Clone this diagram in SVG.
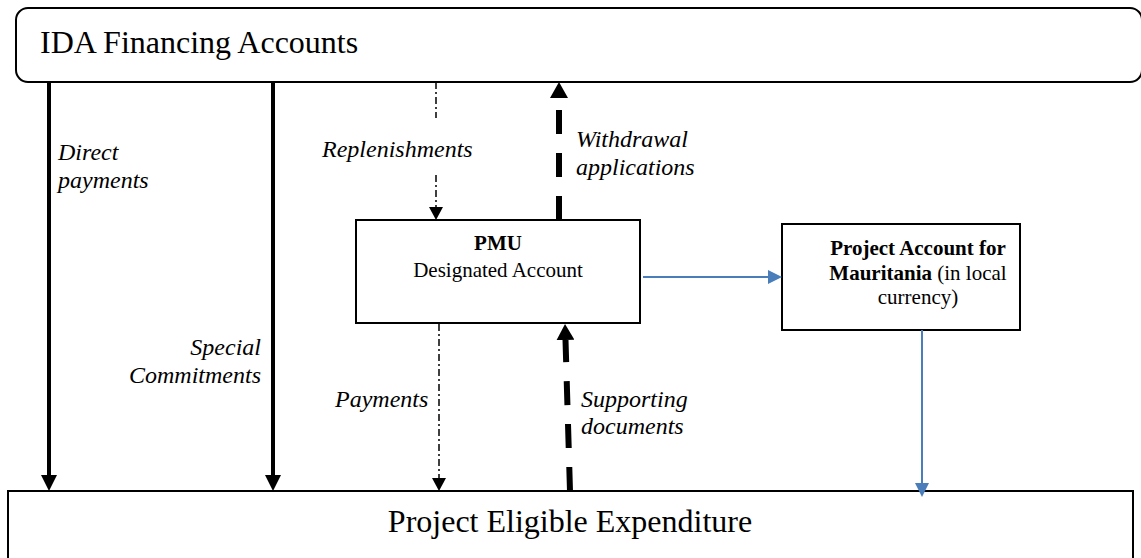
<svg xmlns="http://www.w3.org/2000/svg" width="1141" height="558" viewBox="0 0 1141 558">
<style>
  .box { fill: #fff; stroke: #000; stroke-width: 2; }
  .title { font-family: "Liberation Serif", "Times New Roman", serif; font-size: 32px; fill: #000; }
  .lbl { font-family: "Liberation Serif", "Times New Roman", serif; font-size: 24px; font-style: italic; fill: #000; }
  .ntext { font-family: "Liberation Serif", "Times New Roman", serif; font-size: 21px; fill: #000; }
  .b { font-weight: bold; }
  .solid { fill: none; stroke: #000; stroke-width: 4; }
  .dashdot { fill: none; stroke: #000; stroke-width: 1.5; stroke-dasharray: 7 3 2 3; }
  .thickdash { fill: none; stroke: #000; stroke-width: 6; stroke-dasharray: 24 19; }
  .blue { fill: none; stroke: #4a7ebb; stroke-width: 2; }
</style>
<defs>
  <marker id="hBlack" markerUnits="userSpaceOnUse" viewBox="0 0 16 16" markerWidth="16" markerHeight="16" refX="0" refY="8" orient="auto">
    <path d="M0,0 L16,8 L0,16 Z" fill="#000"/>
  </marker>
  <marker id="hThick" markerUnits="userSpaceOnUse" viewBox="0 0 16 18" markerWidth="16" markerHeight="18" refX="0" refY="9" orient="auto">
    <path d="M0,0 L16,9 L0,18 Z" fill="#000"/>
  </marker>
  <marker id="hSmall" markerUnits="userSpaceOnUse" viewBox="0 0 13 14" markerWidth="13" markerHeight="14" refX="0" refY="7" orient="auto">
    <path d="M0,0 L13,7 L0,14 Z" fill="#000"/>
  </marker>
  <marker id="hBlue" markerUnits="userSpaceOnUse" viewBox="0 0 14 14" markerWidth="14" markerHeight="14" refX="0" refY="7" orient="auto">
    <path d="M0,0 L14,7 L0,14 Z" fill="#4a7ebb"/>
  </marker>
</defs>

<g id="ida">
  <rect class="box" x="16" y="8" width="1126" height="74" rx="12"/>
  <text class="title" x="40" y="53">IDA Financing Accounts</text>
</g>

<g id="expenditure">
  <rect class="box" x="8" y="491" width="1125" height="80"/>
  <text class="title" x="570" y="532" text-anchor="middle">Project Eligible Expenditure</text>
</g>

<g id="pmu">
  <rect class="box" x="356" y="220" width="284" height="103"/>
  <text class="ntext b" x="498" y="250" text-anchor="middle">PMU</text>
  <text class="ntext" x="498" y="277" text-anchor="middle">Designated Account</text>
</g>

<g id="project-account">
  <rect class="box" x="782" y="224" width="238" height="106"/>
  <text class="ntext" x="918" y="255" text-anchor="middle"><tspan class="b">Project Account for</tspan></text>
  <text class="ntext" x="918" y="280" text-anchor="middle"><tspan class="b">Mauritania</tspan> (in local</text>
  <text class="ntext" x="918" y="304" text-anchor="middle">currency)</text>
</g>

<g id="connectors">
  <path class="solid" d="M49 82 V475" marker-end="url(#hBlack)"/>
  <path class="solid" d="M273 82 V475" marker-end="url(#hBlack)"/>
  <path class="dashdot" d="M436 82 V118 M436 175 V207" marker-end="url(#hSmall)"/>
  <path class="thickdash" d="M559 220 V98" marker-end="url(#hThick)"/>
  <path class="dashdot" d="M439 324 V478" marker-end="url(#hSmall)"/>
  <path class="thickdash" d="M570 491 L565.5 340" marker-end="url(#hThick)"/>
  <path class="blue" d="M643 277 H768" marker-end="url(#hBlue)"/>
  <path class="blue" d="M922 330 V483" marker-end="url(#hBlue)"/>
</g>

<g id="labels">
  <text class="lbl" x="58" y="160">Direct</text>
  <text class="lbl" x="58" y="188">payments</text>
  <text class="lbl" x="261" y="355" text-anchor="end">Special</text>
  <text class="lbl" x="261" y="383" text-anchor="end">Commitments</text>
  <text class="lbl" x="322" y="157">Replenishments</text>
  <text class="lbl" x="576" y="147">Withdrawal</text>
  <text class="lbl" x="576" y="175">applications</text>
  <text class="lbl" x="335" y="407">Payments</text>
  <text class="lbl" x="581" y="407">Supporting</text>
  <text class="lbl" x="581" y="434">documents</text>
</g>
</svg>
